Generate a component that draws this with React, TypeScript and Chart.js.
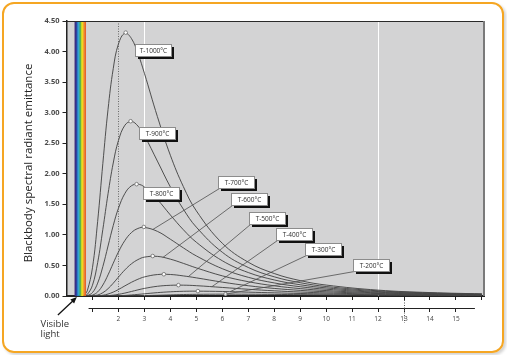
import React, { useEffect, useRef } from 'react';
import { Chart, registerables } from 'chart.js';

Chart.register(...registerables);

// Wavelength (µm) sample positions shared by all curves
const WAVELENGTHS = [0.7, 0.8, 1.0, 1.2, 1.4, 1.6, 1.8, 2.0, 2.25, 2.5, 2.75, 3.0, 3.5, 4.0, 4.5, 5, 6, 7, 8, 9, 10, 12, 14, 16];

// Emittance values (W/cm²·µm)
const T_1000 = [0.022, 0.084, 0.462, 1.222, 2.170, 3.055, 3.720, 4.123, 4.301, 4.214, 3.969, 3.645, 2.937, 2.303, 1.791, 1.394, 0.863, 0.553, 0.368, 0.252, 0.179, 0.096, 0.056, 0.035];
const T_900 = [0.006, 0.025, 0.176, 0.547, 1.091, 1.673, 2.176, 2.543, 2.795, 2.856, 2.782, 2.625, 2.208, 1.785, 1.421, 1.127, 0.716, 0.467, 0.314, 0.218, 0.155, 0.085, 0.050, 0.031];
const T_800 = [0.001, 0.006, 0.056, 0.211, 0.482, 0.818, 1.153, 1.435, 1.679, 1.803, 1.829, 1.784, 1.579, 1.326, 1.085, 0.880, 0.577, 0.384, 0.263, 0.184, 0.133, 0.073, 0.043, 0.027];
const T_700 = [0, 0.001, 0.014, 0.067, 0.180, 0.346, 0.536, 0.720, 0.909, 1.037, 1.105, 1.122, 1.058, 0.929, 0.788, 0.656, 0.447, 0.306, 0.214, 0.152, 0.111, 0.062, 0.037, 0.024];
const T_600 = [0, 0, 0.003, 0.016, 0.054, 0.120, 0.209, 0.309, 0.428, 0.526, 0.595, 0.636, 0.648, 0.603, 0.534, 0.460, 0.330, 0.234, 0.167, 0.121, 0.089, 0.051, 0.031, 0.020];
const T_500 = [0, 0, 0, 0.003, 0.012, 0.032, 0.064, 0.106, 0.166, 0.224, 0.274, 0.312, 0.351, 0.352, 0.329, 0.297, 0.227, 0.168, 0.124, 0.092, 0.069, 0.041, 0.025, 0.016];
const T_400 = [0, 0, 0, 0, 0.002, 0.006, 0.014, 0.027, 0.048, 0.074, 0.100, 0.124, 0.159, 0.175, 0.177, 0.169, 0.140, 0.110, 0.085, 0.065, 0.050, 0.030, 0.019, 0.013];
const T_300 = [0, 0, 0, 0, 0, 0.001, 0.002, 0.004, 0.009, 0.017, 0.026, 0.036, 0.055, 0.069, 0.077, 0.079, 0.074, 0.063, 0.052, 0.041, 0.033, 0.021, 0.014, 0.009];
const T_200 = [0, 0, 0, 0, 0, 0, 0, 0, 0.001, 0.002, 0.004, 0.006, 0.012, 0.018, 0.024, 0.027, 0.030, 0.029, 0.026, 0.022, 0.019, 0.013, 0.009, 0.006];

const SERIES_LABELS = ['T-1000°C', 'T-900°C', 'T-800°C', 'T-700°C', 'T-600°C', 'T-500°C', 'T-400°C', 'T-300°C', 'T-200°C'];

// Peak of each curve
const PEAK_WL = [2.28, 2.47, 2.70, 2.98, 3.32, 3.75, 4.31, 5.06, 6.13];
const PEAK_VAL = [4.31, 2.86, 1.83, 1.13, 0.654, 0.356, 0.178, 0.080, 0.031];

// Label boxes (top-left corner, data coordinates)
const LABEL_BOX_X = [2.62, 2.80, 2.95, 5.84, 6.34, 7.02, 8.06, 9.18, 11.05];
const LABEL_BOX_Y = [4.13, 2.77, 1.78, 1.97, 1.69, 1.37, 1.11, 0.86, 0.60];
// Leader end points on curves
const LEADER_X = [null, null, null, 3.33, 3.71, 4.7, 5.6, 6.3, 6.13];
const LEADER_Y = [null, null, null, 1.09, 0.63, 0.32, 0.152, 0.071, 0.030];

const X_AXIS_TICKS = [1, 2, 3, 4, 5, 6, 7, 8, 9, 10, 11, 12, 13, 14, 15, 16];
const X_LABEL_TICKS = [1, 2, 3, 4, 5, 6, 7, 8, 9, 10, 11, 12, 13, 14, 15];
const WHITE_LINES = [3, 12];
const DOTTED_LINE = 2;
const DOTTED_AXIS_LINE = 13;
const VISIBLE_BAND = [0.31, 0.74];
const RAINBOW = ['#3d2a7e', '#2c44a0', '#2a7cc6', '#23a6cf', '#3aa957', '#c6d62a', '#f3d51f', '#f29b1d', '#e9632a'];

const FONT = "'Open Sans', 'Noto Sans', sans-serif";
const PLOT_BG = '#d3d3d4';
const CURVE = '#474747';

export default function App() {
  const ref = useRef<HTMLCanvasElement>(null);

  useEffect(() => {
    const canvas = ref.current!;
    Chart.defaults.font.family = FONT;

    const decor = {
      id: 'decor',
      beforeDraw(chart: any) {
        const { ctx, chartArea: a } = chart;
        ctx.save();
        ctx.fillStyle = PLOT_BG;
        ctx.fillRect(a.left, a.top, a.right - a.left, a.bottom - a.top);
        ctx.restore();
      },
      beforeDatasetsDraw(chart: any) {
        const { ctx, chartArea: a, scales } = chart;
        const x = scales.x;
        ctx.save();
        ctx.strokeStyle = '#ffffff';
        ctx.lineWidth = 1;
        WHITE_LINES.forEach((v) => {
          const px = Math.round(x.getPixelForValue(v)) + 0.5;
          ctx.beginPath();
          ctx.moveTo(px, a.top);
          ctx.lineTo(px, a.bottom);
          ctx.stroke();
        });
        ctx.strokeStyle = '#6a6a6a';
        ctx.setLineDash([1, 1.5]);
        const dp = Math.round(x.getPixelForValue(DOTTED_LINE)) + 0.5;
        ctx.beginPath();
        ctx.moveTo(dp, a.top);
        ctx.lineTo(dp, a.bottom);
        ctx.stroke();
        ctx.restore();
      },
      afterDatasetsDraw(chart: any) {
        const { ctx, chartArea: a, scales } = chart;
        const x = scales.x;
        const y = scales.y;
        const x2 = scales.x2;
        ctx.save();

        // visible light band
        const b0 = x.getPixelForValue(VISIBLE_BAND[0]);
        const b1 = x.getPixelForValue(VISIBLE_BAND[1]);
        const sw = (b1 - b0) / RAINBOW.length;
        RAINBOW.forEach((c, i) => {
          ctx.fillStyle = c;
          ctx.fillRect(b0 + i * sw, a.top, sw + 0.3, a.bottom - a.top);
        });

        // frame: top line and right shadow
        ctx.strokeStyle = '#2a2a2a';
        ctx.lineWidth = 1;
        ctx.beginPath();
        ctx.moveTo(a.left, a.top + 0.5);
        ctx.lineTo(a.right, a.top + 0.5);
        ctx.stroke();
        ctx.strokeStyle = '#7a7a7a';
        ctx.lineWidth = 2;
        ctx.beginPath();
        ctx.moveTo(a.right, a.top);
        ctx.lineTo(a.right, a.bottom);
        ctx.stroke();

        // leaders and label boxes
        const w = 36;
        const h = 12;
        SERIES_LABELS.forEach((label, i) => {
          const bx = Math.round(x.getPixelForValue(LABEL_BOX_X[i])) + 0.5;
          const by = Math.round(y.getPixelForValue(LABEL_BOX_Y[i])) + 0.5;
          const lx = LEADER_X[i];
          const ly = LEADER_Y[i];
          if (lx !== null && ly !== null) {
            ctx.strokeStyle = '#4f4f4f';
            ctx.lineWidth = 0.8;
            ctx.beginPath();
            ctx.moveTo(bx + 1, by + h);
            ctx.lineTo(x.getPixelForValue(lx), y.getPixelForValue(ly));
            ctx.stroke();
          }
          ctx.fillStyle = '#111111';
          ctx.fillRect(bx + 2.5, by + 2.5, w, h);
          ctx.fillStyle = '#ffffff';
          ctx.fillRect(bx, by, w, h);
          ctx.strokeStyle = '#8c8c8c';
          ctx.lineWidth = 1;
          ctx.strokeRect(bx, by, w, h);
          ctx.fillStyle = '#2e2e2e';
          ctx.font = `6.5px ${FONT}`;
          ctx.textAlign = 'center';
          ctx.textBaseline = 'middle';
          ctx.fillText(label, bx + w / 2, by + h / 2 + 0.5);
        });

        // secondary axis line
        const ay = Math.round(x2.top) + 0.5;
        ctx.strokeStyle = '#222222';
        ctx.lineWidth = 1.2;
        ctx.beginPath();
        ctx.moveTo(x2.getPixelForValue(0.85), ay);
        ctx.lineTo(x2.getPixelForValue(15.73), ay);
        ctx.stroke();

        // dotted line at 13 across the axis labels
        const d13 = Math.round(x2.getPixelForValue(DOTTED_AXIS_LINE)) + 0.5;
        ctx.strokeStyle = '#555555';
        ctx.lineWidth = 1;
        ctx.setLineDash([1, 1.5]);
        ctx.beginPath();
        ctx.moveTo(d13, a.bottom + 4);
        ctx.lineTo(d13, x2.top + 15);
        ctx.stroke();
        ctx.setLineDash([]);

        // arrow to visible band
        const hx = x.getPixelForValue(0.4);
        const hy = a.bottom + 1;
        const tx = hx - 19;
        const ty = hy + 18;
        ctx.strokeStyle = '#111111';
        ctx.lineWidth = 1.3;
        ctx.beginPath();
        ctx.moveTo(tx, ty);
        ctx.lineTo(hx - 3, hy + 3);
        ctx.stroke();
        const ang = Math.atan2(hy - ty, hx - tx);
        ctx.fillStyle = '#111111';
        ctx.beginPath();
        ctx.moveTo(hx, hy);
        ctx.lineTo(hx - 7 * Math.cos(ang - 0.4), hy - 7 * Math.sin(ang - 0.4));
        ctx.lineTo(hx - 7 * Math.cos(ang + 0.4), hy - 7 * Math.sin(ang + 0.4));
        ctx.closePath();
        ctx.fill();

        ctx.fillStyle = '#333333';
        ctx.font = `9.5px ${FONT}`;
        ctx.textAlign = 'left';
        ctx.textBaseline = 'alphabetic';
        ctx.fillText('Visible', 40.5, 327);
        ctx.fillText('light', 40.5, 337);

        ctx.restore();
      },
    };

    const curves = [T_1000, T_900, T_800, T_700, T_600, T_500, T_400, T_300, T_200];
    const curveDatasets = curves.map((vals, i) => ({
      label: SERIES_LABELS[i],
      data: WAVELENGTHS.map((wl, j) => ({ x: wl, y: vals[j] })),
      borderColor: CURVE,
      borderWidth: 0.95,
      pointRadius: 0,
      tension: 0.4,
      fill: false,
    }));
    const peakDataset = {
      label: 'peaks',
      data: PEAK_WL.map((wl, i) => ({ x: wl, y: PEAK_VAL[i] })),
      showLine: false,
      pointRadius: 1.8,
      pointBackgroundColor: '#ffffff',
      pointBorderColor: '#6a6a6a',
      pointBorderWidth: 0.8,
    };

    const chart = new Chart(canvas, {
      type: 'line',
      data: { datasets: [peakDataset as any, ...curveDatasets] },
      options: {
        responsive: false,
        animation: false,
        devicePixelRatio: 1,
        layout: { padding: { left: 0, top: 21, right: 23, bottom: 17 } },
        plugins: { legend: { display: false }, tooltip: { enabled: false } },
        scales: {
          x: {
            type: 'linear',
            position: 'bottom',
            weight: 0,
            min: 0,
            max: 16.08,
            afterBuildTicks: (s: any) => {
              s.ticks = X_AXIS_TICKS.map((v) => ({ value: v }));
            },
            afterFit: (s: any) => {
              s.height = 12;
            },
            grid: { display: true, drawOnChartArea: false, drawTicks: true, tickLength: 4, color: '#222222', lineWidth: 1 },
            border: { display: true, color: '#222222', width: 2 },
            ticks: { display: false },
          },
          x2: {
            type: 'linear',
            position: 'bottom',
            weight: 1,
            min: 0,
            max: 16.08,
            afterBuildTicks: (s: any) => {
              s.ticks = X_LABEL_TICKS.map((v) => ({ value: v }));
            },
            afterFit: (s: any) => {
              s.height = 30;
            },
            grid: { display: true, drawOnChartArea: false, drawTicks: true, tickLength: 4, color: '#222222', lineWidth: 1 },
            border: { display: false },
            ticks: {
              autoSkip: false,
              maxRotation: 0,
              padding: 3,
              color: '#444444',
              font: { size: 6.5, family: FONT },
              callback: (v: any) => (v >= 2 ? String(v) : ''),
            },
          },
          y: {
            type: 'linear',
            min: 0,
            max: 4.5,
            afterFit: (s: any) => {
              s.width = 66.5;
            },
            grid: { display: true, drawOnChartArea: false, drawTicks: true, tickLength: 4, color: '#222222', lineWidth: 1 },
            border: { display: true, color: '#222222', width: 1.5 },
            ticks: {
              stepSize: 0.5,
              padding: 3,
              color: '#4a4a4a',
              font: { size: 7.5, weight: 'bold', family: FONT },
              callback: (v: any) => Number(v).toFixed(2),
            },
            title: {
              display: true,
              text: 'Blackbody spectral radiant emittance   ',
              color: '#222222',
              font: { size: 11.5, family: FONT },
              padding: { top: 21.5, bottom: 0 },
            },
          },
        },
      } as any,
      plugins: [decor],
    });

    return () => chart.destroy();
  }, []);

  return (
    <div style={{ position: 'fixed', left: 0, top: 0, width: 507, height: 355, background: '#ffffff' }}>
      <div
        style={{
          position: 'absolute',
          left: 1.5,
          top: 1.5,
          width: 498.8,
          height: 347.2,
          border: '2px solid #f5a623',
          borderRadius: 12,
          boxShadow: '2px 2px 3px rgba(0,0,0,0.18)',
        }}
      />
      <canvas ref={ref} width={507} height={355} style={{ position: 'absolute', left: 0, top: 0, display: 'block' }} />
    </div>
  );
}
